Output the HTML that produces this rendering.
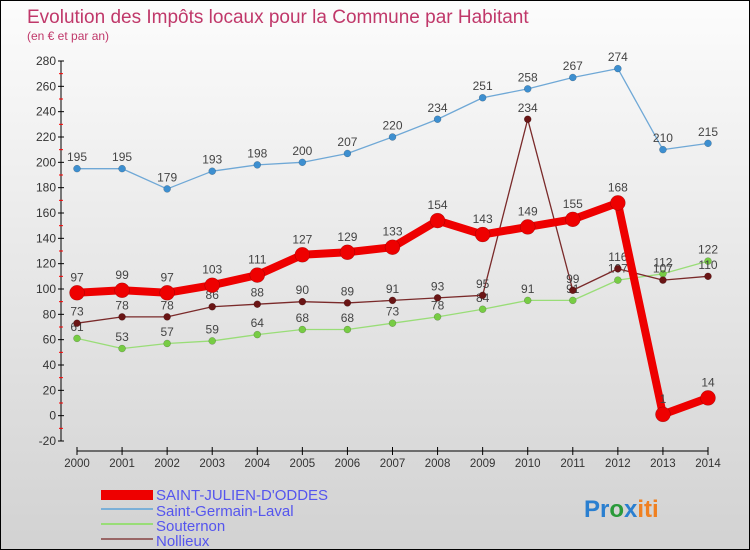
<!DOCTYPE html>
<html><head><meta charset="utf-8"><style>
body{margin:0}
#c{width:748px;height:548px;border:1px solid #000;background:linear-gradient(#fcfcfc,#d2d2d2);position:relative;overflow:hidden;font-family:"Liberation Sans",sans-serif}
svg{position:absolute;left:0;top:0}
</style></head><body>
<div id="c">
<svg id="s" width="750" height="550">
<text x="26" y="22" font-size="19" fill="#c0386a">Evolution des Impôts locaux pour la Commune par Habitant</text>
<text x="26" y="39" font-size="12" fill="#c0386a">(en € et par an)</text>
<g id="axes"></g><g id="series"></g>
<g>
<rect x="100" y="489" width="52" height="10" fill="#ee0000"/>
<text x="155" y="499" font-size="15" fill="#5555ee">SAINT-JULIEN-D'ODDES</text>
<rect x="100" y="507" width="52" height="2" fill="#7ab0d8"/>
<text x="155" y="515" font-size="15" fill="#5555ee">Saint-Germain-Laval</text>
<rect x="100" y="522" width="52" height="2" fill="#99dd77"/>
<text x="155" y="530" font-size="15" fill="#5555ee">Souternon</text>
<rect x="100" y="537" width="52" height="2" fill="#996666"/>
<text x="155" y="545" font-size="15" fill="#5555ee">Nollieux</text>
</g>
<text x="583" y="516" font-size="24" font-weight="bold"><tspan fill="#2a7fd0">Pr</tspan><tspan fill="#2a9a3a">o</tspan><tspan fill="#2a7fd0">x</tspan><tspan fill="#f08020">iti</tspan></text>
</svg></div>
<script>
const years=[2000,2001,2002,2003,2004,2005,2006,2007,2008,2009,2010,2011,2012,2013,2014];
const yTicks=[-20,0,20,40,60,80,100,120,140,160,180,200,220,240,260,280];
const sj=[97,99,97,103,111,127,129,133,154,143,149,155,168,1,14];
const sgl=[195,195,179,193,198,200,207,220,234,251,258,267,274,210,215];
const sou=[61,53,57,59,64,68,68,73,78,84,91,91,107,112,122];
const nol=[73,78,78,86,88,90,89,91,93,95,234,99,116,107,110];
const NS='http://www.w3.org/2000/svg';
const X=i=>76+i*(707-76)/14;
const Y=v=>60+(280-v)*380/300;
function mk(t,a,p){const e=document.createElementNS(NS,t);for(const k in a)e.setAttribute(k,a[k]);p.appendChild(e);return e;}
const ax=document.getElementById('axes');
let l=mk('line',{x1:60,y1:Y(280),x2:60,y2:Y(-20),stroke:'#000'},ax);


for(let v=-10;v<280;v+=20){mk('line',{x1:58,x2:62,y1:Y(v),y2:Y(v),stroke:'#f00'},ax);}
yTicks.forEach(v=>{mk('line',{x1:57,x2:63,y1:Y(v),y2:Y(v),stroke:'#000'},ax);
const t=mk('text',{x:55,y:Y(v)+4,'text-anchor':'end','font-size':12,fill:'#333'},ax);t.textContent=v;

});
l=mk('line',{x1:76,y1:450,x2:707,y2:450,stroke:'#000'},ax);


years.forEach((y,i)=>{mk('line',{x1:X(i),x2:X(i),y1:446,y2:454,stroke:'#000'},ax);
const t=mk('text',{x:X(i),y:466,'text-anchor':'middle','font-size':11.5,fill:'#333'},ax);t.textContent=y;

});
const sg=document.getElementById('series');
function draw(d,name,col,dot,w,r,labCol){
 const g=mk('g',{},sg);
 
 
 const pl=mk('polyline',{points:d.map((v,i)=>X(i)+','+Y(v)).join(' '),fill:'none',stroke:col,'stroke-width':w,'stroke-linejoin':'round'},g);
 
 
 d.forEach((v,i)=>{const c=mk('circle',{cx:X(i),cy:Y(v),r:r,fill:dot,stroke:'rgba(0,0,0,0.3)','stroke-width':0.5},g);
 
 
 const t=mk('text',{x:X(i),y:Y(v)-r-4,'text-anchor':'middle','font-size':12,fill:'#444'},g);t.textContent=v;
 
 });
}
draw(sgl,'saint-germain','#6fa8d6','#3d8fd0',1.3,3.5);
draw(sou,'souternon','#99dd77','#77cc44',1.3,3.5);
draw(nol,'nollieux','#7a2a2a','#6a1515',1.3,3.5);
draw(sj,'saint-julien','#ee0000','#ee0000',8,7.5);
</script>
</body></html>
